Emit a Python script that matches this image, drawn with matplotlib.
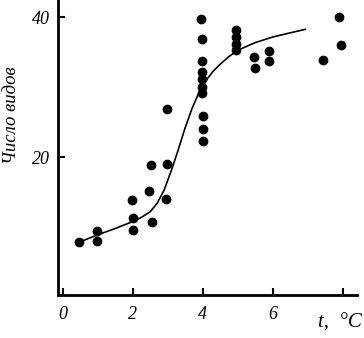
import matplotlib.pyplot as plt

# observed points: temperature (°C) vs number of species
temp = [0.48, 0.98, 0.99, 1.99, 2.0, 2.0, 2.47, 2.55, 2.96, 2.98, 2.52, 2.98,
        3.95, 3.97, 3.97, 3.97, 3.98, 3.98, 3.98, 4.0, 4.0, 4.0,
        4.95, 4.95, 4.95, 4.95, 5.47, 5.5, 5.91, 5.91, 7.45, 7.89, 7.95]
species = [7.9, 9.5, 8.0, 13.9, 11.3, 9.6, 15.2, 10.7, 14.0, 26.9, 18.9, 19.1,
           39.8, 36.9, 33.8, 32.2, 31.2, 30.0, 29.2, 25.9, 24.1, 22.4,
           38.2, 37.2, 36.2, 35.3, 34.4, 32.8, 35.2, 33.8, 33.9, 40.1, 36.0]

# fitted curve
fit_t = [0.5, 1.0, 1.5, 2.0, 2.25, 2.5, 2.7, 2.9, 3.1, 3.3, 3.5, 3.7, 3.9,
         4.1, 4.3, 4.5, 4.75, 5.0, 5.5, 6.0, 6.5, 6.93]
fit_n = [7.9, 8.9, 9.8, 10.8, 11.4, 12.2, 13.4, 15.3, 18.0, 21.0, 24.2, 27.0,
         29.3, 31.0, 32.3, 33.3, 34.4, 35.3, 36.4, 37.2, 37.8, 38.3]

xticks = [0, 2, 4, 6, 8]
xticklabels = ["0", "2", "4", "6", ""]
yticks = [20, 40]

plt.rcParams["font.family"] = "Liberation Serif"

fig = plt.figure(figsize=(3.64, 3.38), dpi=100)
ax = fig.add_axes([58 / 364, 43 / 338, 299 / 364, 295 / 338])

ax.plot(fit_t, fit_n, color="black", lw=1.2)
ax.plot(temp, species, "o", color="black", ms=6, mec="black")

ax.set_xlim(-0.13, 8.41)
ax.set_ylim(0.3, 42.5)

ax.set_xticks(xticks)
ax.set_xticklabels(xticklabels, fontstyle="italic", fontsize=13)
ax.set_yticks(yticks)
ax.set_yticklabels([str(v) for v in yticks], fontstyle="italic", fontsize=13)
ax.tick_params(direction="in", length=5, width=1.5, pad=8)
ax.tick_params(axis="y", pad=6)

for side in ["top", "right"]:
    ax.spines[side].set_visible(False)
for side in ["left", "bottom"]:
    ax.spines[side].set_linewidth(2)

fig.text(12 / 364, 1 - 115 / 338, "Число видов", rotation=90, ha="center",
         va="center", fontstyle="italic", fontsize=13.5)
fig.text(318 / 364, 1 - 323 / 338, "t,  °C", ha="left", va="center",
         fontstyle="italic", fontsize=15)

fig.savefig("out.png", dpi=100)
